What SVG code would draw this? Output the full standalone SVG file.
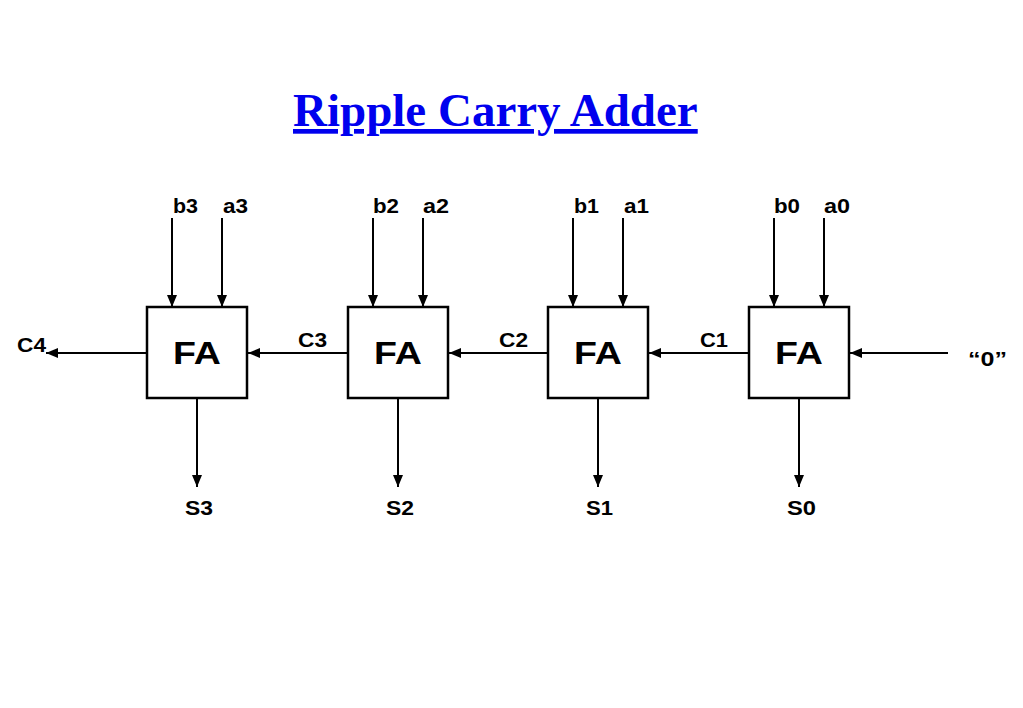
<svg xmlns="http://www.w3.org/2000/svg" width="1023" height="708" viewBox="0 0 1023 708">
<style>
.box{fill:#fff;stroke:#000;stroke-width:2.5}
.fa{font-family:"Liberation Sans",Arial,sans-serif;font-weight:bold;font-size:31px;fill:#000}
.lbl{font-family:"Liberation Sans",Arial,sans-serif;font-weight:bold;font-size:20px;fill:#000}
.w{stroke:#000;stroke-width:2;fill:none}
.title{font-family:"Liberation Serif","Times New Roman",serif;font-weight:bold;font-size:47px;fill:#0000ee;text-decoration:underline}
</style>
<defs>
<marker id="ah" viewBox="0 0 12 10" refX="12" refY="5" markerWidth="12" markerHeight="10" markerUnits="userSpaceOnUse" orient="auto">
<path d="M0,0 L12,5 L0,10 Z" fill="#000"/>
</marker>
</defs>
<rect width="1023" height="708" fill="#fff"/>
<text class="title" x="293" y="126">Ripple Carry Adder</text>
<g id="connectors">
<line class="w" x1="172" y1="218" x2="172" y2="307" marker-end="url(#ah)"/>
<line class="w" x1="222" y1="218" x2="222" y2="307" marker-end="url(#ah)"/>
<line class="w" x1="373" y1="218" x2="373" y2="307" marker-end="url(#ah)"/>
<line class="w" x1="423" y1="218" x2="423" y2="307" marker-end="url(#ah)"/>
<line class="w" x1="573" y1="218" x2="573" y2="307" marker-end="url(#ah)"/>
<line class="w" x1="623" y1="218" x2="623" y2="307" marker-end="url(#ah)"/>
<line class="w" x1="774" y1="218" x2="774" y2="307" marker-end="url(#ah)"/>
<line class="w" x1="824" y1="218" x2="824" y2="307" marker-end="url(#ah)"/>
<line class="w" x1="948" y1="353" x2="850" y2="353" marker-end="url(#ah)"/>
<line class="w" x1="749" y1="353" x2="649" y2="353" marker-end="url(#ah)"/>
<line class="w" x1="548" y1="353" x2="449" y2="353" marker-end="url(#ah)"/>
<line class="w" x1="348" y1="353" x2="248" y2="353" marker-end="url(#ah)"/>
<line class="w" x1="147" y1="353" x2="46" y2="353" marker-end="url(#ah)"/>
<line class="w" x1="197" y1="398" x2="197" y2="487" marker-end="url(#ah)"/>
<line class="w" x1="398" y1="398" x2="398" y2="487" marker-end="url(#ah)"/>
<line class="w" x1="598" y1="398" x2="598" y2="487" marker-end="url(#ah)"/>
<line class="w" x1="799" y1="398" x2="799" y2="487" marker-end="url(#ah)"/>
</g>
<g id="fa3"><rect class="box" x="147" y="307" width="100" height="91"/><text class="fa" x="173" y="364" textLength="48" lengthAdjust="spacingAndGlyphs">FA</text></g>
<g id="fa2"><rect class="box" x="348" y="307" width="100" height="91"/><text class="fa" x="374" y="364" textLength="48" lengthAdjust="spacingAndGlyphs">FA</text></g>
<g id="fa1"><rect class="box" x="548" y="307" width="100" height="91"/><text class="fa" x="574" y="364" textLength="48" lengthAdjust="spacingAndGlyphs">FA</text></g>
<g id="fa0"><rect class="box" x="749" y="307" width="100" height="91"/><text class="fa" x="775" y="364" textLength="48" lengthAdjust="spacingAndGlyphs">FA</text></g>
<g id="labels">
<text class="lbl" x="173" y="213" textLength="25" lengthAdjust="spacingAndGlyphs">b3</text>
<text class="lbl" x="223" y="213" textLength="25" lengthAdjust="spacingAndGlyphs">a3</text>
<text class="lbl" x="373" y="213" textLength="26" lengthAdjust="spacingAndGlyphs">b2</text>
<text class="lbl" x="423" y="213" textLength="26" lengthAdjust="spacingAndGlyphs">a2</text>
<text class="lbl" x="574" y="213" textLength="25" lengthAdjust="spacingAndGlyphs">b1</text>
<text class="lbl" x="624" y="213" textLength="25" lengthAdjust="spacingAndGlyphs">a1</text>
<text class="lbl" x="774" y="213" textLength="26" lengthAdjust="spacingAndGlyphs">b0</text>
<text class="lbl" x="824" y="213" textLength="26" lengthAdjust="spacingAndGlyphs">a0</text>
<text class="lbl" x="17" y="352" textLength="29" lengthAdjust="spacingAndGlyphs">C4</text>
<text class="lbl" x="298" y="347" textLength="29" lengthAdjust="spacingAndGlyphs">C3</text>
<text class="lbl" x="499" y="347" textLength="29" lengthAdjust="spacingAndGlyphs">C2</text>
<text class="lbl" x="700" y="347" textLength="28" lengthAdjust="spacingAndGlyphs">C1</text>
<text class="lbl" x="968" y="366" textLength="39" lengthAdjust="spacingAndGlyphs">“0”</text>
<text class="lbl" x="185" y="515" textLength="28" lengthAdjust="spacingAndGlyphs">S3</text>
<text class="lbl" x="386" y="515" textLength="28" lengthAdjust="spacingAndGlyphs">S2</text>
<text class="lbl" x="586" y="515" textLength="27" lengthAdjust="spacingAndGlyphs">S1</text>
<text class="lbl" x="787" y="515" textLength="29" lengthAdjust="spacingAndGlyphs">S0</text>
</g>
</svg>
